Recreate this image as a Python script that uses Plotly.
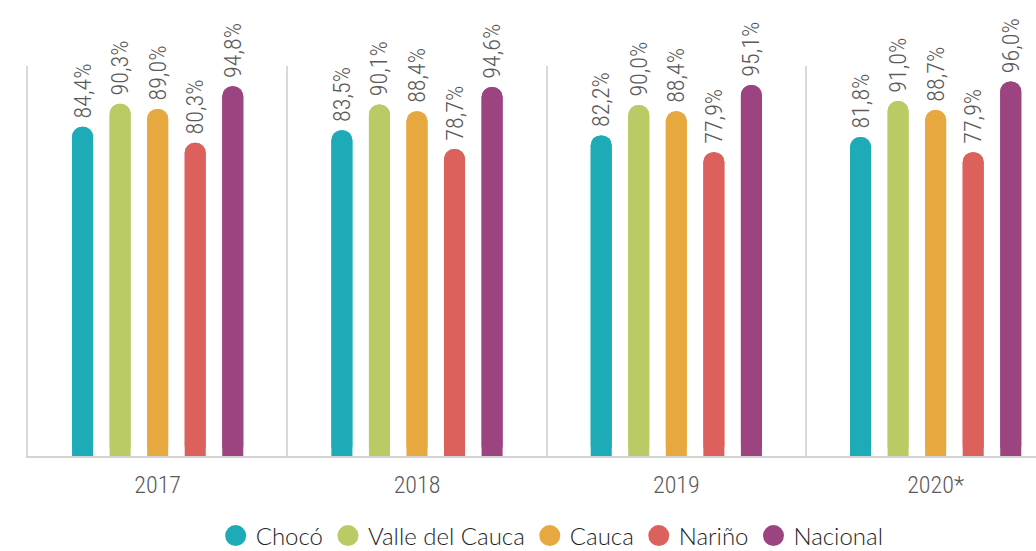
import plotly.graph_objects as go

years = ["2017", "2018", "2019", "2020*"]
regions = ["Chocó", "Valle del Cauca", "Cauca", "Nariño", "Nacional"]
choco = [84.4, 83.5, 82.2, 81.8]
valle = [90.3, 90.1, 90.0, 91.0]
cauca = [89.0, 88.4, 88.4, 88.7]
narino = [80.3, 78.7, 77.9, 77.9]
nacional = [94.8, 94.6, 95.1, 96.0]
colors = ["#1DACB7", "#BACB66", "#E8A840", "#DC605C", "#9C4480"]

series = [choco, valle, cauca, narino, nacional]
font = "Roboto Condensed, Liberation Sans Narrow, Arial Narrow, sans-serif"
legend_font = "Lato, Roboto, sans-serif"

fig = go.Figure()
for name, vals, col in zip(regions, series, colors):
    labels = ["\u00a0" + f"{v:.1f}".replace(".", ",") + "%" for v in vals]
    # rounded top
    fig.add_trace(go.Bar(
        x=years, y=vals, offsetgroup=name, marker_color=col,
        marker_line_width=0, marker_cornerradius="50%", showlegend=False,
        text=labels, textposition="outside", textangle=-90,
        constraintext="none", cliponaxis=False,
        textfont=dict(family=font, size=24, color="#5A5A5A", weight=300),
        hoverinfo="skip",
    ))
    # rounded bottom, same bar drawn downward from its top
    fig.add_trace(go.Bar(
        x=years, y=[-v for v in vals], base=vals, offsetgroup=name,
        marker_color=col, marker_line_width=0, marker_cornerradius="50%",
        showlegend=False, hoverinfo="skip",
    ))
    # legend entry with a round symbol
    fig.add_trace(go.Scatter(
        x=[None], y=[None], mode="markers", name=name,
        marker=dict(symbol="circle", size=16, color=col,
                    line=dict(color=col, width=5)),
    ))

fig.update_layout(
    width=1036, height=551,
    barmode="group", bargap=0.276, bargroupgap=0.44,
    plot_bgcolor="white", paper_bgcolor="white",
    margin=dict(l=28, r=0, t=66, b=95, autoexpand=False),
    font=dict(family=font, size=24, color="#595959", weight=300),
    legend=dict(
        orientation="h", x=0.52, xanchor="center", y=-0.205, yanchor="middle",
        font=dict(family=legend_font, size=24, color="#1E1E1E", weight=300),
        itemsizing="trace",
    ),
)
fig.update_xaxes(
    range=[-0.5, 3.387], showgrid=True, tickson="boundaries",
    gridcolor="#D9D9D9", gridwidth=1.5, ticks="",
    showline=True, linecolor="#D3D3D3", linewidth=2,
    tickfont=dict(family=font, size=24, color="#595959", weight=300),
    ticklabelstandoff=6,
)
fig.update_yaxes(
    range=[0, 100], showgrid=False, zeroline=False, showticklabels=False,
    showline=True, linecolor="#D9D9D9", linewidth=1.5,
)

fig.write_html("out.html", config={"displayModeBar": False},
               post_script="document.body.style.margin='0';")
